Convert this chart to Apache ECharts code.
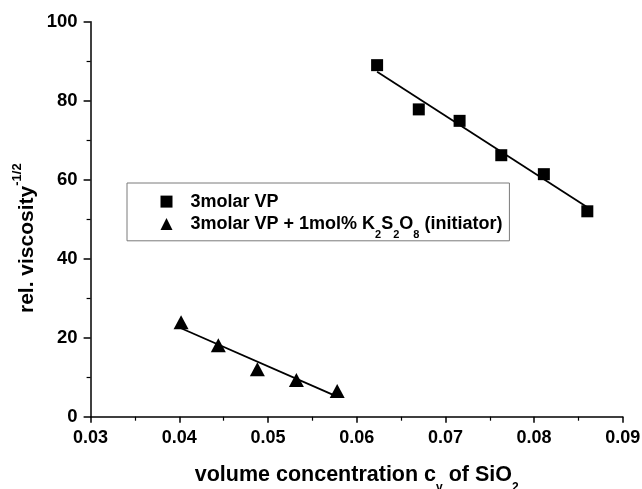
<!DOCTYPE html>
<html><head><meta charset="utf-8">
<script src="https://cdn.jsdelivr.net/npm/echarts@6/dist/echarts.min.js"></script>
<style>html,body{margin:0;padding:0;background:#fff}#c{width:642px;height:489px}</style>
</head><body><div id="c"></div>
<script>
// ---- data ----
const squareX = [0.0623, 0.0670, 0.0716, 0.0763, 0.0811, 0.0860];
const squareY = [89.0, 77.8, 74.9, 66.2, 61.4, 52.0];
const triangleX = [0.0402, 0.0444, 0.0488, 0.0532, 0.0578];
const triangleY = [23.9, 18.1, 12.0, 9.3, 6.5];
const squareFitX = [0.0623, 0.0860];
const squareFitY = [87.3, 53.0];
const triangleFitX = [0.0402, 0.0578];
const triangleFitY = [22.4, 5.1];
const xTickMin = 0.03, xTickMax = 0.09, xTickStep = 0.01;
const yTickMin = 0, yTickMax = 100, yTickStep = 20;
const nameSquare = '3molar VP';
const nameTriangle = '3molar VP + 1mol% K2S2O8 (initiator)';

const FONT = "'Liberation Sans', Arial, Helvetica, sans-serif";
const zip = (xs, ys) => xs.map((x, i) => [x, ys[i]]);
const chart = echarts.init(document.getElementById('c'), null, {renderer: 'canvas'});

const legendRich = {
  g: {width: 13, fontSize: 18, lineHeight: 20, verticalAlign: 'middle'},
  n: {fontSize: 18, fontWeight: 'bold', fontFamily: FONT, color: '#000', lineHeight: 20, verticalAlign: 'middle'},
  s: {fontSize: 11, fontWeight: 'bold', fontFamily: FONT, color: '#000', lineHeight: 11, verticalAlign: 'top', padding: [15.7, 0, 0, 0]}
};

chart.setOption({
  animation: false,
  backgroundColor: '#fff',
  grid: {left: 90.6, right: 19.2, top: 21.7, bottom: 72.3, containLabel: false, outerBoundsMode: 'none'},
  legend: {
    orient: 'vertical', left: 127, top: 183,
    padding: [9.6, 7, 0, 33.5],
    itemWidth: 12, itemHeight: 12, itemGap: 3.5,
    borderColor: '#7a7a7a', borderWidth: 1,
    selectedMode: false,
    data: [{name: nameSquare, icon: 'rect'}, {name: nameTriangle, icon: 'triangle'}],
    formatter: function (name) {
      if (name === nameSquare) return '{g| }{n|3molar VP}';
      return '{g| }{n|3molar VP + 1mol% K}{s|2}{n|S}{s|2}{n|O}{s|8}{n| (initiator)}';
    },
    textStyle: {rich: legendRich}
  },
  xAxis: {
    type: 'value', min: xTickMin, max: xTickMax, interval: xTickStep,
    name: '{n|volume concentration c}{s|v}{n| of SiO}{s|2}',
    nameLocation: 'middle', nameGap: 53.5, nameMoveOverlap: false,
    nameTextStyle: {
      rich: {
        n: {fontSize: 21.5, fontWeight: 'bold', fontFamily: FONT, color: '#000', lineHeight: 23, verticalAlign: 'bottom', padding: [0, 0, 7, 0]},
        s: {fontSize: 12, fontWeight: 'bold', fontFamily: FONT, color: '#000', lineHeight: 12, verticalAlign: 'bottom'}
      }
    },
    axisLine: {show: true, onZero: false, lineStyle: {color: '#000', width: 1.5}},
    axisTick: {show: true, inside: false, length: 6, lineStyle: {color: '#000', width: 1.5}},
    minorTick: {show: true, splitNumber: 2, length: 4, lineStyle: {color: '#000', width: 1.2}},
    splitLine: {show: false},
    axisLabel: {
      margin: 12, color: '#000', fontSize: 18, fontWeight: 'bold', fontFamily: FONT,
      formatter: v => v.toFixed(2), showMinLabel: true, showMaxLabel: true, hideOverlap: false
    }
  },
  yAxis: {
    type: 'value', min: yTickMin, max: yTickMax, interval: yTickStep,
    name: '{n|rel. viscosity}{p|-1/2}',
    nameLocation: 'middle', nameGap: 46.5, nameMoveOverlap: false,
    nameTextStyle: {
      padding: [0, 38, 0, 0],
      rich: {
        n: {fontSize: 21, fontWeight: 'bold', fontFamily: FONT, color: '#000', lineHeight: 33.6, verticalAlign: 'middle'},
        p: {fontSize: 13, fontWeight: 'bold', fontFamily: FONT, color: '#000', lineHeight: 13, verticalAlign: 'top'}
      }
    },
    axisLine: {show: true, onZero: false, lineStyle: {color: '#000', width: 1.5}},
    axisTick: {show: true, inside: false, length: 7, lineStyle: {color: '#000', width: 1.5}},
    minorTick: {show: true, splitNumber: 2, length: 4, lineStyle: {color: '#000', width: 1.2}},
    splitLine: {show: false},
    axisLabel: {margin: 13, color: '#000', fontSize: 18.5, fontWeight: 'bold', fontFamily: FONT}
  },
  series: [
    {name: 'fitSquare', type: 'line', data: zip(squareFitX, squareFitY), symbol: 'none',
     lineStyle: {color: '#000', width: 1.8}, z: 1, silent: true},
    {name: 'fitTriangle', type: 'line', data: zip(triangleFitX, triangleFitY), symbol: 'none',
     lineStyle: {color: '#000', width: 1.8}, z: 1, silent: true},
    {name: nameSquare, type: 'scatter', data: zip(squareX, squareY), symbol: 'rect', symbolSize: 12,
     itemStyle: {color: '#000', opacity: 1}, z: 3},
    {name: nameTriangle, type: 'scatter', data: zip(triangleX, triangleY), symbol: 'triangle', symbolSize: [15, 14],
     itemStyle: {color: '#000', opacity: 1}, z: 3}
  ]
});
</script></body></html>
